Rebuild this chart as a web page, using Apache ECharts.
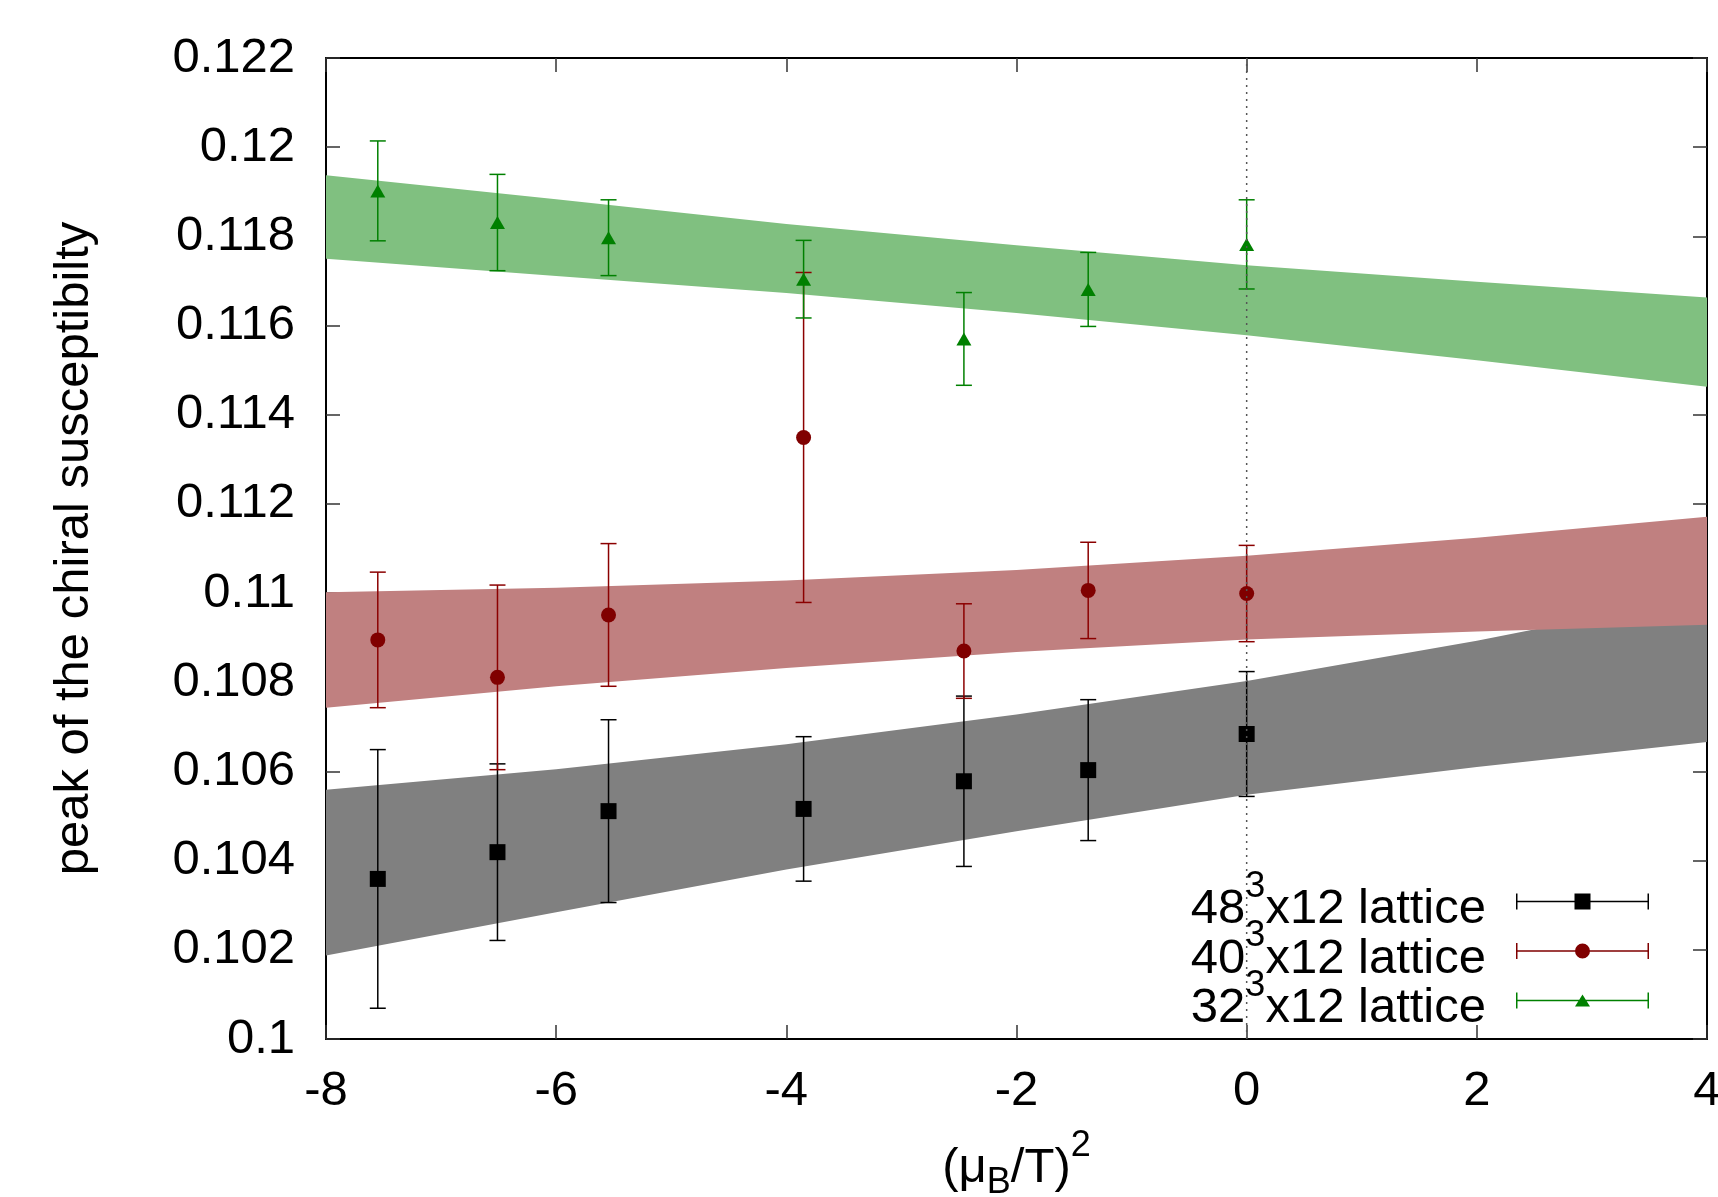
<!DOCTYPE html>
<html>
<head>
<meta charset="utf-8">
<script src="https://cdn.jsdelivr.net/npm/echarts@6/dist/echarts.min.js"></script>
<style>
  html, body { margin: 0; padding: 0; background: #fff; }
  #chart { width: 1718px; height: 1197px; }
</style>
</head>
<body>
<div id="chart"></div>
<script>
// measured points, (mu_B/T)^2 positions shared by all three lattices
const muX = [-7.55, -6.51, -5.545, -3.85, -2.457, -1.377, 0];

const peak48 = [0.10359, 0.10419, 0.10511, 0.10516, 0.10578, 0.10603, 0.10684];
const err48 = [0.0029, 0.00198, 0.00205, 0.00162, 0.00191, 0.00158, 0.0014];

const peak40 = [0.10895, 0.10811, 0.10951, 0.11349, 0.1087, 0.11006, 0.10999];
const err40 = [0.00152, 0.00207, 0.0016, 0.0037, 0.00106, 0.00108, 0.00108];

const peak32 = [0.11902, 0.11831, 0.11797, 0.11704, 0.1157, 0.11681, 0.11782];
const err32 = [0.00112, 0.00108, 0.00085, 0.00087, 0.00104, 0.00083, 0.001];

// fit bands (lower / upper edge)
const bandX = [-8, -6, -4, -2, 0, 2, 4];
const band48Lo = [0.10187, 0.10284, 0.1038, 0.10466, 0.10548, 0.1061, 0.10666];
const band48Hi = [0.10559, 0.10605, 0.10661, 0.10728, 0.10803, 0.10893, 0.10995];
const band40Lo = [0.10743, 0.10791, 0.10832, 0.10868, 0.10896, 0.10914, 0.10929];
const band40Hi = [0.11002, 0.11012, 0.11028, 0.11052, 0.11084, 0.11124, 0.11171];
const band32Lo = [0.1175, 0.11711, 0.11673, 0.11628, 0.11578, 0.11522, 0.11463];
const band32Hi = [0.11937, 0.11883, 0.11828, 0.1178, 0.11735, 0.11698, 0.11663];

// dotted line at mu = 0
const zeroLineX = [0, 0];
const zeroLineY = [0.1, 0.122];

const names = ["48^3x12 lattice", "40^3x12 lattice", "32^3x12 lattice"];

const fontFamily = "'Liberation Sans', Arial, Helvetica, sans-serif";

const chart = echarts.init(document.getElementById("chart"), null, { renderer: "canvas" });

function bandRender(lo, hi, color) {
  return function (params, api) {
    if (params.dataIndex !== 0) return null;
    const pts = [];
    for (let i = 0; i < bandX.length; i++) pts.push(api.coord([bandX[i], hi[i]]));
    for (let i = bandX.length - 1; i >= 0; i--) pts.push(api.coord([bandX[i], lo[i]]));
    return { type: "polygon", shape: { points: pts }, style: { fill: color } };
  };
}

function errRender(color) {
  return function (params, api) {
    const x = api.value(0), y = api.value(1), e = api.value(2);
    const top = api.coord([x, y + e]);
    const bot = api.coord([x, y - e]);
    const hw = 8;
    const st = { stroke: color, lineWidth: 1.5 };
    return {
      type: "group",
      children: [
        { type: "line", shape: { x1: top[0], y1: top[1], x2: bot[0], y2: bot[1] }, style: st },
        { type: "line", shape: { x1: top[0] - hw, y1: top[1], x2: top[0] + hw, y2: top[1] }, style: st },
        { type: "line", shape: { x1: bot[0] - hw, y1: bot[1], x2: bot[0] + hw, y2: bot[1] }, style: st },
      ],
    };
  };
}

function bandSeries(lo, hi, color) {
  return {
    type: "custom",
    silent: true,
    renderItem: bandRender(lo, hi, color),
    encode: { x: 0, y: [1, 2] },
    data: bandX.map((x, i) => [x, lo[i], hi[i]]),
  };
}

function errSeries(peak, err, color) {
  return {
    type: "custom",
    silent: true,
    renderItem: errRender(color),
    encode: { x: 0, y: 1 },
    data: muX.map((x, i) => [x, peak[i], err[i]]),
  };
}

function pointSeries(name, peak, symbol, size, color) {
  return {
    name: name,
    type: "scatter",
    symbol: symbol,
    symbolSize: size,
    itemStyle: { color: color, opacity: 1 },
    data: muX.map((x, i) => [x, peak[i]]),
  };
}

// legend icons: error bar with marker in the middle (133 x 16 box)
const barPath = "M0,7.25 L133,7.25 L133,8.75 L0,8.75 Z M0,0 L1.5,0 L1.5,16 L0,16 Z M131.5,0 L133,0 L133,16 L131.5,16 Z ";
const icons = [
  "path://" + barPath + "M58.5,0 L74.5,0 L74.5,16 L58.5,16 Z",
  "path://" + barPath + "M59,8 A7.5,7.5 0 1,1 74,8 A7.5,7.5 0 1,1 59,8 Z",
  "path://" + barPath + "M59,14 L66.5,2 L74,14 Z",
];

const xAxisBase = {
  type: "value",
  min: -8,
  max: 4,
  interval: 2,
  axisLine: { show: true, onZero: false, lineStyle: { color: "#000", width: 2 } },
  axisTick: { show: true, inside: true, length: 14, lineStyle: { color: "#333", width: 1.5 } },
  splitLine: { show: false },
};
const yAxisBase = {
  type: "value",
  min: 0.1,
  max: 0.122,
  interval: 0.002,
  axisLine: { show: true, onZero: false, lineStyle: { color: "#000", width: 2 } },
  axisTick: { show: true, inside: true, length: 14, lineStyle: { color: "#333", width: 1.5 } },
  splitLine: { show: false },
};

const option = {
  animation: false,
  backgroundColor: "#fff",
  grid: { left: 326, right: 11, top: 58, bottom: 158, containLabel: false, outerBoundsMode: "none" },
  xAxis: [
    Object.assign({}, xAxisBase, {
      position: "bottom",
      axisLabel: { color: "#000", fontSize: 49, fontFamily: fontFamily, margin: 28 },
      name: "{n|(μ}{sub|B}{n|/T)}{sup|2}",
      nameLocation: "middle",
      nameGap: 89,
      nameTextStyle: {
        color: "#000",
        fontFamily: fontFamily,
        fontSize: 49,
        rich: {
          n: { fontSize: 49, fontFamily: fontFamily, color: "#000", verticalAlign: "top", padding: [16, 0, 0, 0] },
          sub: { fontSize: 36, fontFamily: fontFamily, color: "#000", verticalAlign: "top", padding: [37, 0, 0, 0] },
          sup: { fontSize: 36, fontFamily: fontFamily, color: "#000", verticalAlign: "top" },
        },
      },
    }),
    Object.assign({}, xAxisBase, { position: "top", axisLabel: { show: false } }),
  ],
  yAxis: [
    Object.assign({}, yAxisBase, {
      position: "left",
      axisLabel: {
        color: "#000",
        fontSize: 49,
        fontFamily: fontFamily,
        margin: 31,
        formatter: (v) => String(+v.toFixed(3)),
      },
      name: "peak of the chiral susceptibilty",
      nameLocation: "middle",
      nameGap: 227,
      nameTextStyle: { color: "#000", fontFamily: fontFamily, fontSize: 49 },
    }),
    Object.assign({}, yAxisBase, { position: "right", axisLabel: { show: false } }),
  ],
  legend: {
    orient: "vertical",
    right: 69,
    top: 869,
    align: "right",
    padding: 0,
    itemWidth: 133,
    itemHeight: 16,
    itemGap: -15.5,
    selectedMode: false,
    data: names.map((n, i) => ({ name: n, icon: icons[i] })),
    formatter: (name) => name.replace(/^(\d+)\^3(.*)$/, "{n|$1}{sup|3}{n|$2}"),
    textStyle: {
      color: "#000",
      fontSize: 49,
      fontFamily: fontFamily,
      padding: [0, 25, 0, 0],
      rich: {
        n: { fontSize: 49, fontFamily: fontFamily, color: "#000", verticalAlign: "top", padding: [16, 0, 0, 0] },
        sup: { fontSize: 36, fontFamily: fontFamily, color: "#000", verticalAlign: "top" },
      },
    },
  },
  series: [
    {
      type: "line",
      silent: true,
      symbol: "none",
      lineStyle: { color: "#555", width: 1.5, type: [2, 5] },
      data: zeroLineX.map((x, i) => [x, zeroLineY[i]]),
    },
    bandSeries(band48Lo, band48Hi, "#808080"),
    bandSeries(band40Lo, band40Hi, "#c08080"),
    bandSeries(band32Lo, band32Hi, "#80c080"),
    errSeries(peak48, err48, "#000000"),
    errSeries(peak40, err40, "#8b0000"),
    errSeries(peak32, err32, "#008000"),
    pointSeries(names[0], peak48, "rect", 16, "#000000"),
    pointSeries(names[1], peak40, "circle", 15, "#800000"),
    pointSeries(names[2], peak32, "triangle", [15, 13], "#008000"),
  ],
};

chart.setOption(option);
</script>
</body>
</html>
